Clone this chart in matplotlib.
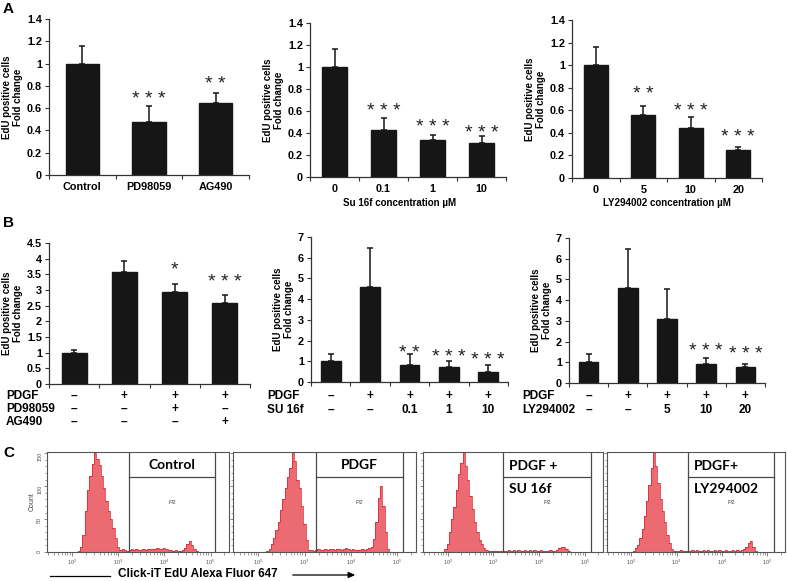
import numpy as np
import matplotlib
matplotlib.use("Agg")
import matplotlib.pyplot as plt
from matplotlib.transforms import blended_transform_factory
from matplotlib.ticker import FuncFormatter, FixedLocator, NullFormatter

plt.rcParams["font.family"] = ["Liberation Sans", "DejaVu Sans"]
plt.rcParams["font.weight"] = "bold"

# ---- data: row A (inhibitors alone) ----
a1_labels = ["Control", "PD98059", "AG490"]
a1_vals = [1.0, 0.48, 0.65]
a1_err = [0.16, 0.14, 0.09]
a1_stars = ["", "* * *", "* *"]
a1_star_y = [0, 0.74, 0.875]

a2_labels = ["0", "0.1", "1", "10"]
a2_vals = [1.0, 0.43, 0.34, 0.31]
a2_err = [0.16, 0.11, 0.04, 0.06]
a2_stars = ["", "* * *", "* * *", "* * *"]
a2_star_y = [0, 0.66, 0.51, 0.46]

a3_labels = ["0", "5", "10", "20"]
a3_vals = [1.0, 0.56, 0.44, 0.25]
a3_err = [0.165, 0.08, 0.10, 0.025]
a3_stars = ["", "* *", "* * *", "* * *"]
a3_star_y = [0, 0.80, 0.65, 0.42]

# ---- data: row B (PDGF + inhibitors) ----
b1_vals = [1.0, 3.57, 2.93, 2.59]
b1_err = [0.1, 0.35, 0.25, 0.24]
b1_stars = ["", "", "*", "* * *"]
b1_star_y = [0, 0, 3.86, 3.44]
b1_rows = ["PDGF", "PD98059", "AG490"]
b1_signs = [["–", "+", "+", "+"], ["–", "–", "+", "–"], ["–", "–", "–", "+"]]

b2_vals = [1.0, 4.57, 0.8, 0.72, 0.5]
b2_err = [0.37, 1.88, 0.55, 0.28, 0.3]
b2_stars = ["", "", "* *", "* * *", "* * *"]
b2_star_y = [0, 0, 1.7, 1.52, 1.36]
b2_rows = ["PDGF", "SU 16f"]
b2_signs = [["–", "+", "+", "+", "+"], ["–", "–", "0.1", "1", "10"]]

b3_vals = [1.0, 4.6, 3.1, 0.9, 0.75]
b3_err = [0.38, 1.85, 1.42, 0.3, 0.18]
b3_stars = ["", "", "", "* * *", "* * *"]
b3_star_y = [0, 0, 0, 1.86, 1.7]
b3_rows = ["PDGF", "LY294002"]
b3_signs = [["–", "+", "+", "+", "+"], ["–", "–", "5", "10", "20"]]

# ---- data: row C (flow cytometry histograms, log10 bins) ----
log_bins = np.round(np.arange(1.90, 5.001, 0.05), 2)
ctrl_counts = [0, 0, 0, 0, 0, 1, 8, 26, 62, 95,
               115, 134, 150, 142, 133, 115, 98, 78, 62, 50,
               36, 22, 8, 3, 4, 3, 2, 3, 4, 3,
               4, 3, 3, 4, 3, 5, 4, 5, 4, 6,
               4, 5, 6, 4, 3, 3, 2, 3, 2, 2,
               3, 6, 12, 17, 10, 5, 1, 0, 0, 0,
               0, 0, 0]
pdgf_counts = [0, 0, 0, 0, 0, 0, 1, 5, 12, 22,
               34, 45, 64, 80, 98, 114, 128, 150, 138, 110,
               98, 70, 42, 18, 3, 3, 2, 3, 4, 3,
               3, 4, 3, 5, 4, 3, 4, 5, 3, 4,
               6, 4, 3, 4, 3, 3, 3, 4, 3, 5,
               6, 8, 20, 45, 82, 100, 70, 30, 4, 0,
               0, 0, 0]
su_counts = [0, 4, 12, 30, 50, 68, 95, 118, 135, 150,
             130, 110, 85, 65, 45, 30, 18, 12, 6, 3,
             1, 2, 1, 2, 1, 2, 2, 1, 2, 3,
             2, 3, 2, 3, 2, 2, 3, 2, 3, 2,
             3, 2, 2, 3, 2, 1, 2, 3, 2, 2,
             3, 6, 8, 7, 5, 2, 0, 0, 0, 0,
             0, 0, 0]
ly_counts = [0, 0, 0, 2, 6, 10, 22, 35, 55, 78,
             102, 127, 150, 130, 105, 80, 62, 45, 26, 14,
             5, 2, 1, 2, 3, 2, 1, 2, 2, 3,
             2, 3, 2, 2, 3, 2, 3, 2, 2, 3,
             2, 3, 2, 2, 3, 2, 2, 3, 2, 3,
             2, 3, 4, 8, 14, 17, 8, 2, 0, 0,
             0, 0, 0]
hist_counts = [ctrl_counts, pdgf_counts, su_counts, ly_counts]
gate_lo = [3.24, 3.24, 3.22, 3.25]
gate_hi = [5.10, 5.11, 5.13, 5.16]

W, H = 787, 581
fig = plt.figure(figsize=(W / 100, H / 100), dpi=100)
fig.patch.set_facecolor("white")


def px_axes(x0, y0, x1, y1):
    return fig.add_axes([x0 / W, 1 - y1 / H, (x1 - x0) / W, (y1 - y0) / H])


def fy(y):
    return 1 - y / H


def bar_panel(ax, vals, err, stars, star_y, ymax, ystep):
    n = len(vals)
    x = np.arange(n)
    ax.bar(x, vals, width=0.5, color="#161616", edgecolor="#161616", zorder=2)
    ax.errorbar(x, vals, yerr=[np.zeros(n), err], fmt="none", ecolor="#161616",
                elinewidth=1.1, capsize=2.5, capthick=1.1, zorder=1)
    ax.set_xlim(-0.5, n - 0.5)
    ax.set_ylim(0, ymax)
    ax.set_yticks(np.arange(0, ymax + 1e-6, ystep))
    ax.yaxis.set_major_formatter(FuncFormatter(lambda v, p: "%g" % round(v, 2)))
    ax.set_xticks(np.arange(n + 1) - 0.5)
    ax.set_xticklabels([])
    for s in ["top", "right"]:
        ax.spines[s].set_visible(False)
    for s in ["left", "bottom"]:
        ax.spines[s].set_color("#333333")
        ax.spines[s].set_linewidth(0.9)
    ax.tick_params(axis="both", length=3, width=0.8, color="#333333",
                   labelsize=7.8, pad=2)
    ax.set_ylabel("EdU positive cells\nFold change", fontsize=7,
                  fontweight="bold", linespacing=1.1, labelpad=3)
    for i, (s, yv) in enumerate(zip(stars, star_y)):
        if s:
            ax.annotate(s, (i, yv), xytext=(0, -8), textcoords="offset points",
                        ha="center", va="baseline", fontsize=14,
                        fontweight="normal", color="#222222")
    return x


def sign_rows(ax, rows, signs, x_label, ys):
    tr = blended_transform_factory(ax.transData, fig.transFigure)
    for r, (name, row) in enumerate(zip(rows, signs)):
        fig.text(x_label / W, fy(ys[r]), name, fontsize=8.5, fontweight="bold",
                 ha="left", va="center")
        for i, s in enumerate(row):
            ax.text(i, fy(ys[r]), s, transform=tr, fontsize=8.5,
                    fontweight="bold", ha="center", va="center")


# ---- row A ----
axA1 = px_axes(49, 19, 249, 175)
x = bar_panel(axA1, a1_vals, a1_err, a1_stars, a1_star_y, 1.4, 0.2)
axA1.set_xticks(x, a1_labels, minor=True)
axA1.tick_params(axis="x", which="minor", length=0, labelsize=7.8, pad=5)

axA2 = px_axes(310, 23, 506, 177)
x = bar_panel(axA2, a2_vals, a2_err, a2_stars, a2_star_y, 1.4, 0.2)
axA2.set_xticks(x, a2_labels, minor=True)
axA2.tick_params(axis="x", which="minor", length=0, labelsize=7.8, pad=5)
fig.text(400 / W, fy(203), "Su 16f concentration µM", fontsize=7,
         fontweight="bold", ha="center", va="center")

axA3 = px_axes(572, 20, 762, 178)
x = bar_panel(axA3, a3_vals, a3_err, a3_stars, a3_star_y, 1.4, 0.2)
axA3.set_xticks(x, a3_labels, minor=True)
axA3.tick_params(axis="x", which="minor", length=0, labelsize=7.8, pad=5)
fig.text(667 / W, fy(203), "LY294002 concentration µM", fontsize=7,
         fontweight="bold", ha="center", va="center")

# ---- row B ----
axB1 = px_axes(49, 243, 250, 384)
bar_panel(axB1, b1_vals, b1_err, b1_stars, b1_star_y, 4.5, 0.5)
sign_rows(axB1, b1_rows, b1_signs, 6, [396, 409, 422])

axB2 = px_axes(311, 237, 508, 382)
bar_panel(axB2, b2_vals, b2_err, b2_stars, b2_star_y, 7, 1)
sign_rows(axB2, b2_rows, b2_signs, 267, [396, 410])

axB3 = px_axes(569, 238, 765, 383)
bar_panel(axB3, b3_vals, b3_err, b3_stars, b3_star_y, 7, 1)
sign_rows(axB3, b3_rows, b3_signs, 522, [396, 410])

# ---- row C ----
c_boxes = [(47, 452, 229, 552), (233, 452, 416, 552),
           (423, 452, 603, 552), (607, 452, 785, 552)]
c_titles = [("Control", ""), ("PDGF", ""), ("PDGF +", "SU 16f"),
            ("PDGF+", "LY294002")]
edges = 10 ** np.append(log_bins - 0.025, log_bins[-1] + 0.025)
for k, box in enumerate(c_boxes):
    ax = px_axes(*box)
    ax.set_xscale("log")
    ax.stairs(hist_counts[k], edges, fill=True, color="#ec6a72", lw=0)
    ax.stairs(hist_counts[k], edges, color="#d81e2a", lw=0.5)
    ax.set_xlim(10 ** 1.46, 10 ** 5.40)
    ax.set_ylim(0, 152)
    g0, g1 = 10 ** gate_lo[k], 10 ** gate_hi[k]
    ax.axvline(g0, color="#4a4a4a", lw=0.9)
    ax.axvline(g1, color="#4a4a4a", lw=0.9)
    ax.plot([g0, g1], [0.75, 0.75], color="#4a4a4a", lw=0.9,
            transform=ax.get_xaxis_transform())
    for s in ax.spines.values():
        s.set_color("#555555")
        s.set_linewidth(0.8)
    ax.tick_params(axis="x", which="major", length=3, width=0.5,
                   labelsize=4, colors="#555555", pad=1)
    ax.tick_params(axis="x", which="minor", length=2, width=0.4,
                   colors="#555555")
    ax.set_yticks([0, 50, 100, 150])
    ax.yaxis.set_minor_locator(FixedLocator(np.arange(0, 151, 10)))
    ax.tick_params(axis="y", which="major", length=2.5, width=0.5,
                   labelsize=4, colors="#555555", pad=1, labelrotation=90)
    ax.tick_params(axis="y", which="minor", length=1.5, width=0.4,
                   colors="#555555")
    for lab in ax.get_xticklabels() + ax.get_yticklabels():
        lab.set_fontweight("normal")
    if k == 0:
        ax.set_ylabel("Count", fontsize=5, fontweight="normal",
                      color="#444444", labelpad=1)
    else:
        ax.yaxis.set_major_formatter(NullFormatter())
    t1, t2 = c_titles[k]
    if t2:
        ax.text(g0 * 1.35, 0.86, t1, transform=ax.get_xaxis_transform(),
                family=["Lato", "DejaVu Sans"], fontsize=10, fontweight="bold",
                ha="left", va="center")
        ax.text(g0 * 1.35, 0.63, t2, transform=ax.get_xaxis_transform(),
                family=["Lato", "DejaVu Sans"], fontsize=10, fontweight="bold",
                ha="left", va="center")
    else:
        ax.text(np.sqrt(g0 * g1), 0.87, t1, transform=ax.get_xaxis_transform(),
                family=["Lato", "DejaVu Sans"], fontsize=10, fontweight="bold",
                ha="center", va="center")
    ax.text(np.sqrt(g0 * g1), 0.5, "P2", transform=ax.get_xaxis_transform(),
            fontsize=4.5, fontweight="normal", color="#444444",
            ha="center", va="center")

# x-axis caption with arrows
fig.text(118 / W, fy(574), "Click-iT EdU Alexa Fluor 647", fontsize=8.5,
         fontweight="bold", ha="left", va="center")
fig.add_artist(plt.Line2D([50 / W, 110 / W], [fy(576), fy(576)], color="black",
                          lw=0.9, transform=fig.transFigure))
fig.add_artist(matplotlib.patches.FancyArrowPatch(
    (290 / W, fy(575)), (358 / W, fy(575)), transform=fig.transFigure,
    arrowstyle="-|>,head_length=4,head_width=1.8", color="black", lw=0.9))

# panel letters
for letter, yy in [("A", 9), ("B", 223), ("C", 453)]:
    fig.text(3 / W, fy(yy), letter, fontsize=11, fontweight="bold",
             ha="left", va="center")

fig.savefig("out.png", dpi=100, facecolor="white")
